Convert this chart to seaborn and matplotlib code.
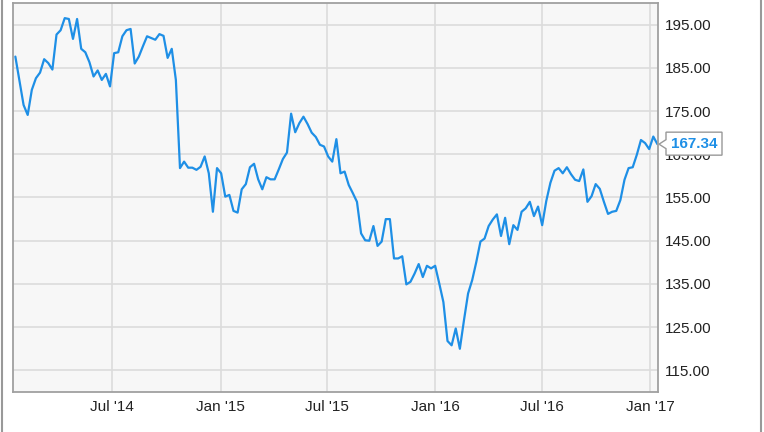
import matplotlib
matplotlib.use("Agg")
import pandas as pd
import matplotlib.pyplot as plt
import matplotlib.dates as mdates
import matplotlib.transforms as mtransforms
from matplotlib.patches import Polygon
from matplotlib.lines import Line2D
from matplotlib.ticker import FormatStrFormatter
import seaborn as sns

# weekly closes (Fridays, Jan 17 2014 -> Jan 13 2017)
close_2014 = [
    187.6, 182.0, 176.4, 174.1, 179.9, 182.6, 183.9, 187.0, 186.1, 184.6,
    192.7, 193.7, 196.5, 196.3, 191.7, 196.3, 189.4, 188.6, 186.3, 183.0,
    184.4, 182.2, 183.6, 180.7, 188.4, 188.6, 192.3, 193.7, 194.0, 186.0,
    187.6, 190.0, 192.3, 191.9, 191.5, 192.8, 192.4, 187.3, 189.4, 182.2,
    161.8, 163.3, 161.9, 161.9, 161.4, 162.1, 164.5, 160.6, 151.7, 161.8,
]
close_2015 = [
    160.6, 155.2, 155.6, 151.9, 151.5, 156.9, 158.1, 162.0, 162.8, 159.2,
    156.9, 159.7, 159.2, 159.2, 161.5, 163.9, 165.4, 174.4, 170.1, 172.2,
    173.7, 172.0, 170.0, 169.0, 167.2, 166.8, 164.5, 163.3, 168.5, 160.6,
    161.0, 157.9, 156.0, 154.0, 146.7, 145.1, 145.0, 148.4, 143.8, 144.8,
    150.0, 150.0, 140.9, 140.9, 141.4, 134.9, 135.5, 137.4, 139.6, 136.6,
    139.2, 138.6,
]
close_2016 = [
    139.2, 135.1, 130.8, 121.8, 120.8, 124.7, 120.0, 126.6, 132.8, 135.9,
    140.1, 144.8, 145.5, 148.4, 149.9, 151.1, 146.1, 150.3, 144.2, 148.6,
    147.5, 151.7, 152.5, 154.0, 150.7, 152.9, 148.6, 154.2, 158.4, 161.2,
    161.8, 160.6, 162.0, 160.4, 159.1, 158.8, 161.5, 154.0, 155.3, 158.1,
    157.0, 154.0, 151.2, 151.7, 151.9, 154.4, 159.1, 161.8, 162.0, 164.9,
    168.3, 167.6, 166.2,
]
close_2017 = [169.1, 167.34]

last_close = 167.34
y_ticks = [115, 125, 135, 145, 155, 165, 175, 185, 195]

close = close_2014 + close_2015 + close_2016 + close_2017
dates = pd.date_range(end="2017-01-13", periods=len(close), freq="W-FRI")
df = pd.DataFrame({"date": dates, "close": close})

line_color = "#1e8fe6"
frame_color = "#a0a0a0"

sns.set_theme(style="whitegrid")
plt.rcParams["font.family"] = ["Liberation Sans", "DejaVu Sans"]

fig = plt.figure(figsize=(7.64, 4.32), dpi=100)
fig.patch.set_facecolor("white")
ax = fig.add_axes([13 / 764, 40 / 432, 645 / 764, 389 / 432])
ax.set_facecolor("#f7f7f7")

sns.lineplot(data=df, x="date", y="close", ax=ax, color=line_color, linewidth=1.6)

ax.set_xlim(pd.Timestamp("2014-01-13"), pd.Timestamp("2017-01-14"))
ax.set_ylim(110, 200)
ax.yaxis.tick_right()
ax.set_yticks(y_ticks)
ax.yaxis.set_major_formatter(FormatStrFormatter("%.2f"))
ax.xaxis.set_major_locator(mdates.MonthLocator(bymonth=[1, 7]))
ax.xaxis.set_major_formatter(mdates.DateFormatter("%b '%y"))
ax.set_xlabel("")
ax.set_ylabel("")
ax.grid(True, color="#dcdcdc", linewidth=1.2)
ax.tick_params(axis="both", length=0, labelsize=11, colors="#222222")
ax.tick_params(axis="y", pad=5)
ax.tick_params(axis="x", pad=6)
for spine in ax.spines.values():
    spine.set_visible(True)
    spine.set_color(frame_color)
    spine.set_linewidth(1.3)

# callout with the last value, pointing at the right edge
anchor = mtransforms.IdentityTransform() + mtransforms.ScaledTranslation(
    1.0, last_close, ax.get_yaxis_transform())
callout = Polygon([(1, 0), (8, 4.5), (8, 12), (64, 12), (64, -11), (8, -11), (8, -4.5)],
                  closed=True, transform=anchor, facecolor="white",
                  edgecolor="#999999", linewidth=1.0, clip_on=False, zorder=5)
ax.add_patch(callout)
ax.text(36, 0.5, f"{last_close:.2f}", transform=anchor, ha="center", va="center",
        fontsize=11, fontweight="bold", color=line_color, zorder=6, clip_on=False)

# thin outer frame lines at the image sides
for xf in (1.5 / 764, 760.5 / 764):
    fig.add_artist(Line2D([xf, xf], [0, 1], transform=fig.transFigure,
                          color="#999999", linewidth=1.5))

fig.savefig("out.png", dpi=100)
